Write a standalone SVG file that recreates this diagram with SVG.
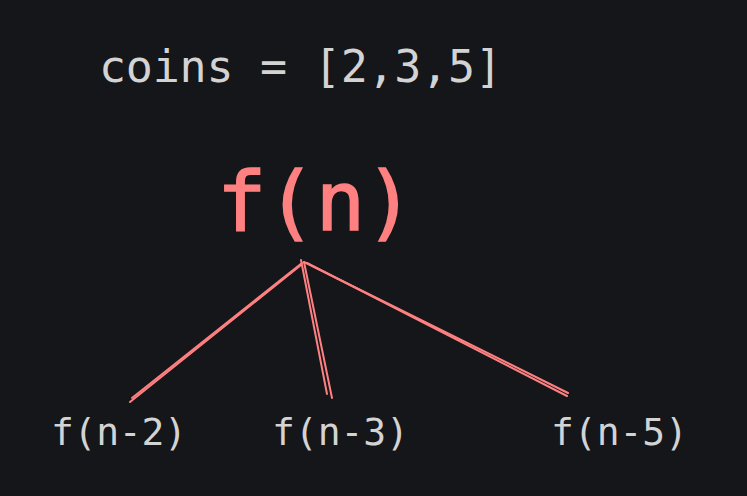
<svg xmlns="http://www.w3.org/2000/svg" width="747" height="496" viewBox="0 0 747 496">
<style>
.lbl{font-family:"DejaVu Sans Mono","Liberation Mono",monospace;fill:#d3d3d3}
.ln{stroke:#ff8080;stroke-width:2;fill:none;stroke-linecap:round}
</style>
<rect width="747" height="496" fill="#14161a"/>
<g id="coins"><text class="lbl" x="99" y="82" font-size="45" textLength="403" lengthAdjust="spacing">coins = [2,3,5]</text></g>
<g id="fn"><text x="217" y="230" font-family="DejaVu Sans Mono,Liberation Mono,monospace" font-size="82" fill="#ff8080" stroke="#ff8080" stroke-width="1.5">f(n)</text></g>
<g id="connectors">
<path class="ln" d="M301,265 L130,402"/>
<path class="ln" d="M302,263 L132,398"/>
<path class="ln" d="M301,260 L327,394"/>
<path class="ln" d="M304,262 L332,398"/>
<path class="ln" d="M304,262 L568,393"/>
<path class="ln" d="M307,263 L567,396"/>
</g>
<g id="n2"><text class="lbl" x="51" y="445" font-size="38" textLength="136" lengthAdjust="spacing">f(n-2)</text></g>
<g id="n3"><text class="lbl" x="272" y="445" font-size="38" textLength="137" lengthAdjust="spacing">f(n-3)</text></g>
<g id="n5"><text class="lbl" x="551" y="445" font-size="38" textLength="137" lengthAdjust="spacing">f(n-5)</text></g>
</svg>
